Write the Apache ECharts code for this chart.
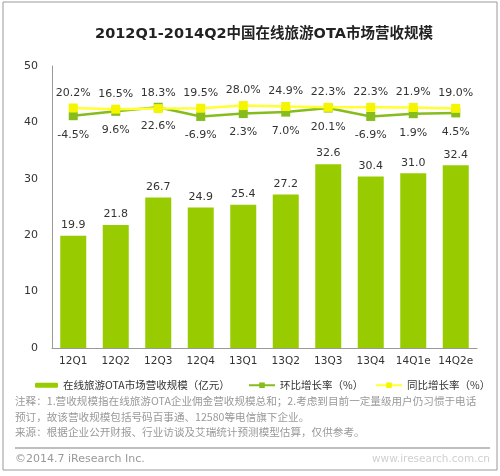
<!DOCTYPE html>
<html><head><meta charset="utf-8">
<script src="https://cdn.jsdelivr.net/npm/echarts@6/dist/echarts.min.js"></script>
<style>html,body{margin:0;padding:0;background:#fff}#c{width:500px;height:476px}</style>
</head><body><div id="c"></div>
<script>
var categories = ['12Q1','12Q2','12Q3','12Q4','13Q1','13Q2','13Q3','13Q4','14Q1e','14Q2e'];
var revenue = [19.9, 21.8, 26.7, 24.9, 25.4, 27.2, 32.6, 30.4, 31.0, 32.4];
var qoq = [-4.5, 9.6, 22.6, -6.9, 2.3, 7.0, 20.1, -6.9, 1.9, 4.5];
var yoy = [20.2, 16.5, 18.3, 19.5, 28.0, 24.9, 22.3, 22.3, 21.9, 19.0];
var yTicks = [0, 10, 20, 30, 40, 50];
var seriesNames = ['在线旅游OTA市场营收规模（亿元）', '环比增长率（%）', '同比增长率（%）'];
var titleText = '2012Q1-2014Q2中国在线旅游OTA市场营收规模';
var noteLines = [
  '注释：1.营收规模指在线旅游OTA企业佣金营收规模总和；2.考虑到目前一定量级用户仍习惯于电话',
  '预订，故该营收规模包括号码百事通、12580等电信旗下企业。',
  '来源：根据企业公开财报、行业访谈及艾瑞统计预测模型估算，仅供参考。'
];
var footerLeft = '©2014.7 iResearch Inc.';
var footerRight = 'www.iresearch.com.cn';

var FF = "'DejaVu Sans','Noto Sans CJK SC',sans-serif";
var CJK = "'Noto Sans CJK SC',sans-serif";
var chart = echarts.init(document.getElementById('c'));
var legendBase = {orient:'horizontal', top:375, itemGap:5, textStyle:{fontSize:10.5, color:'#333', fontFamily:CJK}};
chart.setOption({
  animation:false,
  backgroundColor:'#fff',
  title:{text:titleText, left:259, top:22, textAlign:'center',
    textStyle:{fontSize:14.5, fontWeight:'bold', color:'#222', fontFamily:FF}},
  legend:[
    Object.assign({}, legendBase, {left:30, data:[seriesNames[0]], itemWidth:23, itemHeight:5}),
    Object.assign({}, legendBase, {left:243, data:[seriesNames[1]], itemWidth:26, itemHeight:7}),
    Object.assign({}, legendBase, {left:370, data:[seriesNames[2]], itemWidth:26, itemHeight:7})
  ],
  grid:{left:52, right:23, top:66, bottom:128},
  xAxis:{type:'category', data:categories,
    axisLine:{lineStyle:{color:'#999', width:1}}, axisTick:{show:false},
    axisLabel:{color:'#333', fontSize:10.5, margin:8, interval:0, fontFamily:FF}},
  yAxis:[
    {type:'value', min:yTicks[0], max:yTicks[yTicks.length-1], interval:10,
      axisLine:{show:true, lineStyle:{color:'#999'}}, axisTick:{show:false},
      splitLine:{show:false},
      axisLabel:{color:'#333', fontSize:11, margin:14, fontFamily:FF}},
    {type:'value', min:-750, max:155, show:false, splitLine:{show:false}}
  ],
  series:[
    {name:seriesNames[0], type:'bar', data:revenue, barWidth:26,
      itemStyle:{color:'#99cc00'},
      label:{show:true, position:'top', distance:5, color:'#333', fontSize:11, fontFamily:FF,
        formatter:function(p){return p.value.toFixed(1);}}},
    {name:seriesNames[1], type:'line', yAxisIndex:1, data:qoq, symbol:'rect', symbolSize:9,
      lineStyle:{color:'#86bd1c', width:2.5}, itemStyle:{color:'#86bd1c'}, z:3,
      label:{show:true, position:'bottom', distance:9, color:'#333', fontSize:11, fontFamily:FF,
        formatter:function(p){return p.value.toFixed(1)+'%';}}},
    {name:seriesNames[2], type:'line', yAxisIndex:1, data:yoy, symbol:'rect', symbolSize:9,
      lineStyle:{color:'#ffff33', width:2.5}, itemStyle:{color:'#f5f500'}, z:4,
      label:{show:true, position:'top', distance:5, color:'#333', fontSize:11, fontFamily:FF,
        formatter:function(p){return p.value.toFixed(1)+'%';}}}
  ],
  graphic:[
    {type:'rect', shape:{x:3, y:2, width:494, height:468}, style:{fill:null, stroke:'#999', lineWidth:1}, silent:true, z:-1},
    {type:'text', left:15, top:396, style:{text:noteLines[0], fill:'#999', fontSize:10.6, fontFamily:CJK}},
    {type:'text', left:15, top:412, style:{text:noteLines[1], fill:'#999', fontSize:10.6, fontFamily:CJK}},
    {type:'text', left:15, top:427, style:{text:noteLines[2], fill:'#999', fontSize:10.6, fontFamily:CJK}},
    {type:'line', shape:{x1:15, y1:448, x2:490, y2:448}, style:{stroke:'#aaa', lineWidth:1.5}},
    {type:'text', left:15, top:454, style:{text:footerLeft, fill:'#999', fontSize:11, fontFamily:FF}},
    {type:'text', left:372, top:454, style:{text:footerRight, fill:'#d0d0d0', fontSize:10.5, fontFamily:FF}}
  ]
});
</script></body></html>
